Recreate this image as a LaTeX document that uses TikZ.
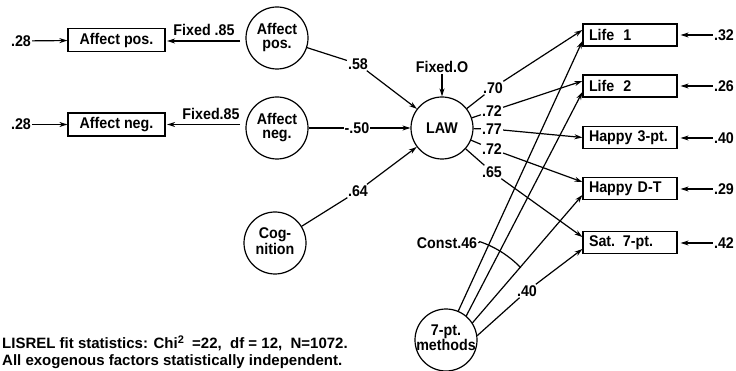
\documentclass[tikz,border=0pt]{standalone}
\usepackage{fontspec}
\setmainfont{Liberation Sans}[FakeStretch=0.92]
\newfontfamily\bfont{Liberation Sans}
\usetikzlibrary{arrows.meta}
\newcommand{\cirtxt}[1]{\makebox[0pt]{\begin{tabular}{@{}c@{}}#1\end{tabular}}}
\begin{document}
\begin{tikzpicture}[x=1pt,y=-1pt,
  every node/.style={font=\fontsize{15.5}{14}\selectfont\bfseries},
  lbl/.style={inner sep=1pt},
  obs/.style={draw, rectangle, line width=1.2pt, minimum height=23pt, minimum width=97pt, inner sep=0pt},
  robs/.style={draw, rectangle, line width=1.2pt, minimum height=22pt, text width=82pt, inner xsep=6pt, inner ysep=0pt, align=left},
  lat/.style={draw, circle, line width=1.2pt, minimum size=62pt, inner sep=0pt},
  conn/.style={line width=1.2pt},
  arr/.style={conn, -{Stealth[length=8pt,width=5pt]}},
  note/.style={anchor=west, inner sep=0pt, font=\bfont\fontsize{15}{15}\selectfont\bfseries},
]
\path[use as bounding box] (0,0) rectangle (736,371);

% left observed
\node[obs] (bap) at (116.5,40) {Affect pos.};
\node[obs] (ban) at (116.5,124.5) {Affect neg.};
\node[lbl] (ep) at (21,41) {.28};
\node[lbl] (en) at (21,124.5) {.28};
\node[lbl] (fp) at (204,30) {Fixed .85};
\node[lbl] (fn) at (211,114) {Fixed.85};
\coordinate (sp) at (240,41);
\coordinate (sn) at (240,124.5);

% latent
\node[lat] (cap) at (277,38) {\cirtxt{Affect\\pos.}};
\node[lat] (can) at (277,128) {\cirtxt{Affect\\neg.}};
\node[lat] (cog) at (275,243) {\cirtxt{Cog-\\nition}};
\node[lat] (law) at (442,128) {LAW};
\node[lat] (m7) at (446,340) {\cirtxt{7-pt.\\methods}};

% right observed
\node[robs] (l1) at (630,35) {Life\hspace{9pt}1};
\node[robs] (l2) at (630,86) {Life\hspace{9pt}2};
\node[robs] (h3) at (630,137.5) {Happy 3-pt.};
\node[robs] (hd) at (630,188.5) {Happy D-T};
\node[robs] (s7) at (630,242.5) {Sat. 7-pt.};

\node[lbl] (r1) at (724,35) {.32};
\node[lbl] (r2) at (724,86) {.26};
\node[lbl] (r3) at (724,138) {.40};
\node[lbl] (r4) at (724,189) {.29};
\node[lbl] (r5) at (724,243) {.42};

% path labels
\node[lbl] (c58) at (358,64) {.58};
\node[lbl] (c50) at (357,128) {-.50};
\node[lbl] (c64) at (358,191) {.64};
\node[lbl] (f0) at (442,67) {Fixed.O};
\node[lbl] (o1) at (493,88) {.70};
\node[lbl] (o2) at (492,111) {.72};
\node[lbl] (o3) at (492,129) {.77};
\node[lbl] (o4) at (492,149) {.72};
\node[lbl] (o5) at (492,172) {.65};
\node[lbl] (c46) at (447,243) {Const.46};
\node[lbl] (c40) at (527,291) {.40};

% bottom text
\node[note] (t1) at (2,343) {LISREL fit statistics: Chi\raisebox{5pt}{\fontsize{11}{11}\selectfont 2}\ \ =22,\ \ df = 12,\ \ N=1072.};
\node[note] (t2) at (2,362) {All exogenous factors statistically independent.};

% left connectors
\draw[arr] (ep) -- (bap);
\draw[arr] (en) -- (ban);
\draw[arr, shorten >=1.5pt] (sp) -- (bap.east |- sp);
\draw[arr, shorten >=1.5pt] (sn) -- (ban.east |- sn);

% to LAW
\draw[conn] (cap) -- (c58);
\draw[arr] (c58) -- (law);
\draw[conn] (can) -- (c50);
\draw[arr] (c50) -- (law);
\draw[conn] (cog) -- (c64);
\draw[arr] (c64) -- (law);
\draw[arr] (f0) -- (law);

% from LAW
\draw[conn] (law) -- (o1);
\draw[arr] (o1) -- ([yshift=5pt]l1.west);
\draw[conn] (law) -- (o2);
\draw[arr] (o2) -- ([yshift=5pt]l2.west);
\draw[conn] (law) -- (o3);
\draw[arr] (o3) -- (h3.west);
\draw[conn] (law) -- (o4);
\draw[arr] (o4) -- ([yshift=6.5pt]hd.west);
\draw[conn] (law) -- (o5);
\draw[arr] (o5) -- ([yshift=5.5pt]s7.west);

% method factor
\draw[arr] (m7.67) -- ([yshift=-6pt]l1.west);
\draw[arr] (m7.50) -- ([yshift=-6pt]l2.west);
\draw[arr] (m7.33) -- ([yshift=-6.5pt]hd.west);
\draw[conn] (m7.8) -- (c40);
\draw[arr] (c40) -- ([yshift=-6.5pt]s7.west);
\draw[conn] (c46.east) -- ([shift={(71:104pt)}]m7.center) arc[start angle=71, end angle=44, radius=104pt];

% residuals
\draw[arr, shorten >=3pt] (r1) -- (l1.east |- r1);
\draw[arr, shorten >=3pt] (r2) -- (l2.east |- r2);
\draw[arr, shorten >=3pt] (r3) -- (h3.east |- r3);
\draw[arr, shorten >=3pt] (r4) -- (hd.east |- r4);
\draw[arr, shorten >=3pt] (r5) -- (s7.east |- r5);
\end{tikzpicture}
\end{document}
